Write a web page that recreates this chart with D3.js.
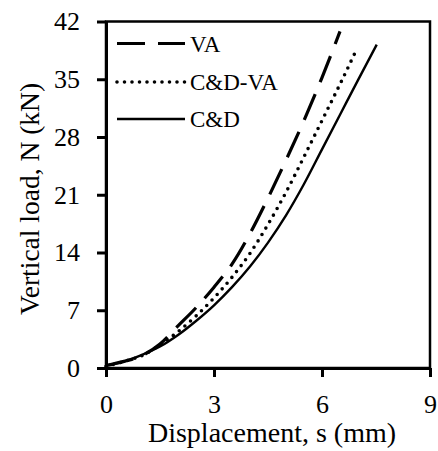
<!DOCTYPE html>
<html>
<head>
<meta charset="UTF-8">
<script src="https://d3js.org/d3.v7.min.js"></script>
<style>
  body { margin: 0; background: #fff; }
  svg text { font-family: "Liberation Serif", "Times New Roman", serif; fill: #000; }
</style>
</head>
<body>
<svg width="438" height="451"></svg>
<script>
// data (s in mm, N in kN)
var xTicks = [0, 3, 6, 9];
var yTicks = [0, 7, 14, 21, 28, 35, 42];
var seriesNames = ["VA", "C&D-VA", "C&D"];

var vaS = [0, 0.5, 1.0, 1.5, 2.0, 2.5, 3.0, 3.5, 4.0, 4.5, 5.0, 5.5, 6.0, 6.5];
var vaN = [0.3, 0.8, 1.5, 2.9, 5.1, 7.3, 9.8, 12.6, 16.3, 20.6, 25.2, 30.0, 35.2, 40.8];

var cdvaS = [0, 0.5, 1.0, 1.5, 2.0, 2.5, 3.0, 3.5, 4.0, 4.5, 5.0, 5.5, 6.0, 6.5, 6.96];
var cdvaN = [0.2, 0.8, 1.5, 2.8, 4.4, 6.3, 8.5, 11.0, 13.9, 17.4, 21.3, 25.6, 30.0, 34.4, 38.6];

var cdS = [0, 0.5, 1.0, 1.5, 2.0, 2.5, 3.0, 3.5, 4.0, 4.5, 5.0, 5.5, 6.0, 6.5, 7.0, 7.52];
var cdN = [0.3, 0.8, 1.6, 2.6, 4.0, 5.7, 7.6, 9.8, 12.3, 15.2, 18.5, 22.3, 26.5, 30.7, 34.9, 39.2];

var svg = d3.select("svg");
var plotL = 106, plotR = 430, plotT = 21.5, plotB = 368;

var x = d3.scaleLinear().domain([0, 9]).range([plotL, plotR]);
var y = d3.scaleLinear().domain([0, 42]).range([plotB, plotT]);

// frame
svg.append("rect")
   .attr("x", plotL).attr("y", plotT)
   .attr("width", plotR - plotL).attr("height", plotB - plotT)
   .attr("fill", "none").attr("stroke", "#000").attr("stroke-width", 2.5);

// axes
var xAxis = svg.append("g")
   .attr("transform", "translate(0," + plotB + ")")
   .call(d3.axisBottom(x).tickValues(xTicks).tickSize(9).tickSizeOuter(0));
var yAxis = svg.append("g")
   .attr("transform", "translate(" + plotL + ",0)")
   .call(d3.axisLeft(y).tickValues(yTicks).tickSize(9).tickSizeOuter(0).tickPadding(17));

[xAxis, yAxis].forEach(function(a) {
    a.select(".domain").attr("stroke-width", 3);
    a.selectAll(".tick line").attr("stroke-width", 3);
    a.selectAll(".tick text")
     .style("font-family", "Liberation Serif")
     .style("font-size", "26px");
});
xAxis.selectAll(".tick text").attr("dy", null).attr("y", 45);

// axis titles
svg.append("text")
   .attr("x", 272).attr("y", 442)
   .attr("text-anchor", "middle")
   .style("font-size", "28px")
   .text("Displacement, s (mm)");

svg.append("text")
   .attr("transform", "translate(39,199) rotate(-90)")
   .attr("text-anchor", "middle")
   .style("font-size", "27.5px")
   .text("Vertical load, N (kN)");

// curves
var styles = [
    { dash: "28,13", width: 3.2, cap: "butt" },
    { dash: "0,7.5", width: 3.6, cap: "round" },
    { dash: null, width: 2.4, cap: "butt" }
];

function toPoints(s, n) {
    return s.map(function(v, i) { return [v, n[i]]; });
}
var series = [toPoints(vaS, vaN), toPoints(cdvaS, cdvaN), toPoints(cdS, cdN)];

var line = d3.line()
   .x(function(d) { return x(d[0]); })
   .y(function(d) { return y(d[1]); })
   .curve(d3.curveMonotoneX);

series.forEach(function(pts, i) {
    svg.append("path")
       .attr("d", line(pts))
       .attr("fill", "none")
       .attr("stroke", "#000")
       .attr("stroke-width", styles[i].width)
       .attr("stroke-linecap", styles[i].cap)
       .attr("stroke-dasharray", styles[i].dash);
});

// legend
var legendY = [43.5, 82, 119];
seriesNames.forEach(function(name, i) {
    svg.append("line")
       .attr("x1", 117).attr("x2", 185)
       .attr("y1", legendY[i]).attr("y2", legendY[i])
       .attr("stroke", "#000")
       .attr("stroke-width", styles[i].width)
       .attr("stroke-linecap", styles[i].cap)
       .attr("stroke-dasharray", styles[i].dash);
    svg.append("text")
       .attr("x", 190).attr("y", legendY[i] + 8)
       .style("font-size", "23px")
       .text(name);
});
</script>
</body>
</html>
